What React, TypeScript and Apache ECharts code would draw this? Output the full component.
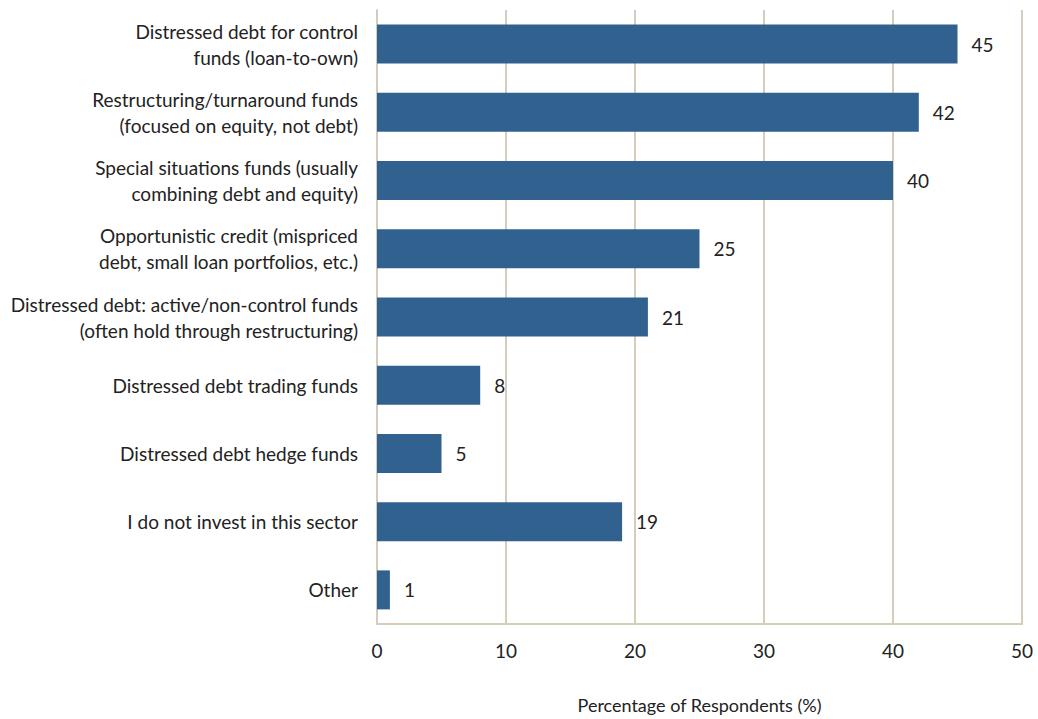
import React, { useEffect, useRef } from "react";
import * as echarts from "echarts";

const categories = [
  "Distressed debt for control\nfunds (loan-to-own)",
  "Restructuring/turnaround funds\n(focused on equity, not debt)",
  "Special situations funds (usually\ncombining debt and equity)",
  "Opportunistic credit (mispriced\ndebt, small loan portfolios, etc.)",
  "Distressed debt: active/non-control funds\n(often hold through restructuring)",
  "Distressed debt trading funds",
  "Distressed debt hedge funds",
  "I do not invest in this sector",
  "Other",
];
const values = [45, 42, 40, 25, 21, 8, 5, 19, 1];
const xTicks = { min: 0, max: 50, interval: 10 };
const xTitle = "Percentage of Respondents (%)";

export default function App() {
  const ref = useRef<HTMLDivElement>(null);
  useEffect(() => {
    if (!ref.current) return;
    const chart = echarts.init(ref.current, null, { renderer: "svg" });
    const font = "Lato, 'Noto Sans', sans-serif";
    chart.setOption({
      animation: false,
      textStyle: { fontFamily: font },
      grid: { left: 377, right: 16, top: 10, bottom: 87, containLabel: false },
      xAxis: {
        type: "value",
        min: xTicks.min,
        max: xTicks.max,
        interval: xTicks.interval,
        name: xTitle,
        nameLocation: "middle",
        nameGap: 72,
        nameTextStyle: { fontSize: 18, color: "#222", fontFamily: font },
        axisLine: { show: true, lineStyle: { color: "#d6ccbb", width: 2 } },
        axisTick: { show: false },
        axisLabel: { fontSize: 19, color: "#222", margin: 17, fontFamily: font },
        splitLine: { show: true, lineStyle: { color: "#d6ccbb", width: 2 } },
      },
      yAxis: {
        type: "category",
        data: categories,
        inverse: true,
        axisLine: { show: true, lineStyle: { color: "#d6ccbb", width: 2 } },
        axisTick: { show: false },
        axisLabel: {
          fontSize: 19,
          color: "#222",
          margin: 19,
          lineHeight: 26,
          align: "right",
          fontFamily: font,
        },
      },
      series: [
        {
          type: "bar",
          data: values,
          barWidth: 39,
          itemStyle: { color: "#31628f" },
          label: {
            show: true,
            position: "right",
            distance: 14,
            fontSize: 19,
            color: "#222",
            fontFamily: font,
          },
        },
      ],
    });
    return () => chart.dispose();
  }, []);
  return <div ref={ref} style={{ width: 1038, height: 719, position: "absolute", left: 0, top: 0 }} />;
}
